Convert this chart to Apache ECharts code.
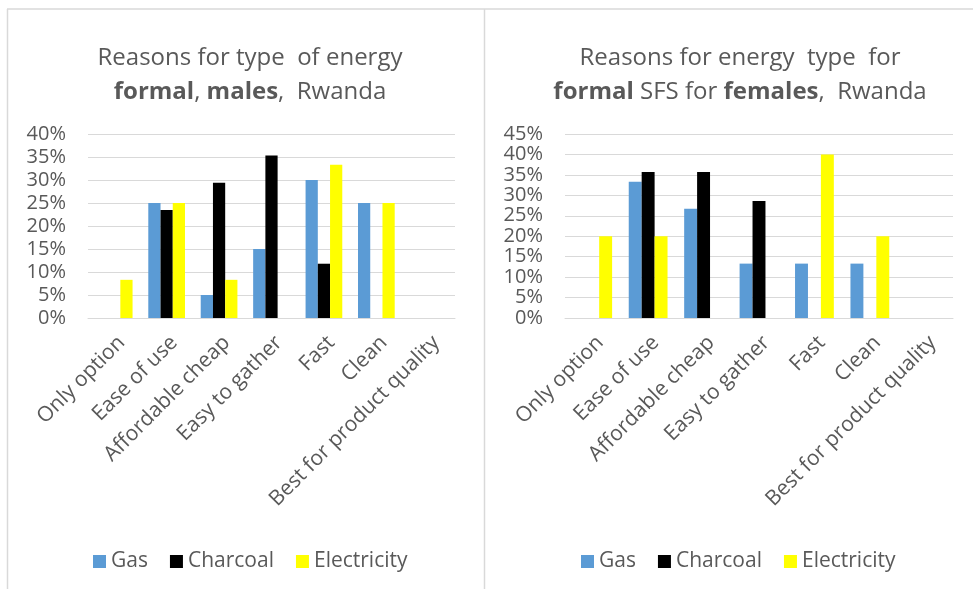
<!DOCTYPE html>
<html>
<head>
<meta charset="utf-8">
<script src="https://cdn.jsdelivr.net/npm/echarts@6/dist/echarts.min.js"></script>
<style>html,body{margin:0;padding:0;background:#fff}#c{width:973px;height:589px}</style>
</head>
<body>
<div id="c"></div>
<script>
const categories = ['Only option', 'Ease of use', 'Affordable cheap', 'Easy to gather', 'Fast', 'Clean', 'Best for product quality'];
const seriesNames = ['Gas', 'Charcoal', 'Electricity'];
const maleGas = [0, 25, 5, 15, 30, 25, 0];
const maleCharcoal = [0, 23.5, 29.4, 35.3, 11.8, 0, 0];
const maleElectricity = [8.3, 25, 8.3, 0, 33.3, 25, 0];
const femaleGas = [0, 33.3, 26.7, 13.3, 13.3, 13.3, 0];
const femaleCharcoal = [0, 35.7, 35.7, 28.6, 0, 0, 0];
const femaleElectricity = [20, 20, 0, 0, 40, 20, 0];
const maleTicks = { min: 0, max: 40, interval: 5 };
const femaleTicks = { min: 0, max: 45, interval: 5 };

const FONT = 'Open Sans';
const GREY = '#595959';
const colors = ['#5b9bd5', '#000000', '#ffff00'];

const chart = echarts.init(document.getElementById('c'), null, { renderer: 'canvas' });

function titleRich() {
  return {
    n: { fontFamily: FONT, fontSize: 24, color: GREY, fontWeight: 'normal', lineHeight: 34 },
    b: { fontFamily: FONT, fontSize: 24, color: GREY, fontWeight: 'bold', lineHeight: 34 }
  };
}

function xAxis(gi) {
  return {
    type: 'category', gridIndex: gi, data: categories,
    axisLine: { lineStyle: { color: '#d9d9d9', width: 1 } },
    axisTick: { show: false },
    axisLabel: { interval: 0, rotate: 45, margin: 14, verticalAlign: 'top', color: GREY, fontFamily: FONT, fontSize: 21 }
  };
}
function yAxis(gi, t) {
  return {
    type: 'value', gridIndex: gi, min: t.min, max: t.max, interval: t.interval,
    axisLine: { show: false }, axisTick: { show: false },
    splitLine: { lineStyle: { color: '#d9d9d9', width: 1 } },
    axisLabel: { formatter: '{value}%', margin: 22, color: GREY, fontFamily: FONT, fontSize: 20 }
  };
}
function bars(name, data, idx, gi) {
  return {
    name: name, type: 'bar', xAxisIndex: gi, yAxisIndex: gi, data: data,
    barGap: '0%', barCategoryGap: '30%',
    itemStyle: { color: colors[idx] }
  };
}
function legend(cx) {
  return {
    data: seriesNames, left: cx, top: 546, itemWidth: 13, itemHeight: 13, itemGap: 22,
    textStyle: { color: GREY, fontFamily: FONT, fontSize: 21 },
    icon: 'rect', selectedMode: false
  };
}

chart.setOption({
  animation: false,
  title: [
    { text: '{n|Reasons for type  of energy}\n{b|formal}{n|, }{b|males}{n|,  Rwanda}',
      left: 245, top: 36, textAlign: 'center', textStyle: { fontWeight: 'normal', rich: titleRich() } },
    { text: '{n|Reasons for energy  type  for}\n{b|formal}{n| SFS for }{b|females}{n|,  Rwanda}',
      left: 735, top: 36, textAlign: 'center', textStyle: { fontWeight: 'normal', rich: titleRich() } }
  ],
  legend: [legend(88), legend(576)],
  grid: [
    { left: 88, right: 518, top: 134, bottom: 271 },
    { left: 565, right: 20, top: 134, bottom: 271 }
  ],
  xAxis: [xAxis(0), xAxis(1)],
  yAxis: [yAxis(0, maleTicks), yAxis(1, femaleTicks)],
  series: [
    bars('Gas', maleGas, 0, 0),
    bars('Charcoal', maleCharcoal, 1, 0),
    bars('Electricity', maleElectricity, 2, 0),
    bars('Gas', femaleGas, 0, 1),
    bars('Charcoal', femaleCharcoal, 1, 1),
    bars('Electricity', femaleElectricity, 2, 1)
  ],
  graphic: [
    { type: 'line', shape: { x1: 7, y1: 9, x2: 973, y2: 9 }, style: { stroke: '#d9d9d9', lineWidth: 1.5 } },
    { type: 'line', shape: { x1: 7.5, y1: 9, x2: 7.5, y2: 589 }, style: { stroke: '#d9d9d9', lineWidth: 1.5 } },
    { type: 'line', shape: { x1: 484.5, y1: 9, x2: 484.5, y2: 589 }, style: { stroke: '#d9d9d9', lineWidth: 1.5 } }
  ]
});
</script>
</body>
</html>
